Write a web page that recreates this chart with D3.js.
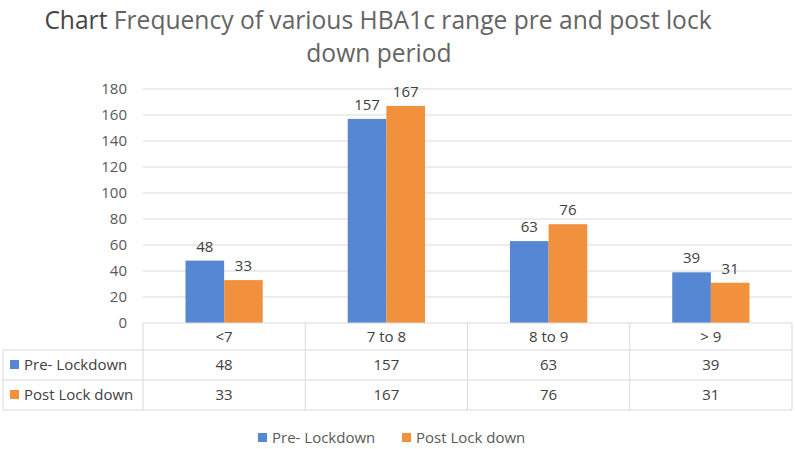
<!DOCTYPE html>
<html>
<head>
<meta charset="utf-8">
<script src="https://cdn.jsdelivr.net/npm/d3@7"></script>
<style>
  body { margin: 0; background: #fff; }
  text { font-family: "Open Sans", "Noto Sans", sans-serif; }
</style>
</head>
<body>
<div class="chart"></div>
<script>
// data
let categories = ["<7", "7 to 8", "8 to 9", "> 9"]
let seriesNames = ["Pre- Lockdown", "Post Lock down"]
let preLockdown = [48, 157, 63, 39]
let postLockdown = [33, 167, 76, 31]
let yTicks = [0, 20, 40, 60, 80, 100, 120, 140, 160, 180]
let colors = ["#5587d3", "#f1913d"]

let svgWidth = 795
let svgHeight = 449

let plot = { left: 143, right: 792, top: 89, bottom: 323 }
let rowH = [27, 30, 30]   // header row, then one per series
let tableLeft = 3

let svg = d3.select('.chart')
    .append('svg')
    .attr('width', svgWidth)
    .attr('height', svgHeight)

// title, two lines
let title = svg.append('g')
    .attr('font-size', 24.6)
    .attr('fill', '#646464')
let line1 = title.append('text')
    .attr('x', 378).attr('y', 29)
    .attr('text-anchor', 'middle')
line1.append('tspan').attr('fill', '#454545').text('Chart')
line1.append('tspan').text(' Frequency of various HBA1c range pre and post lock')
title.append('text')
    .attr('x', 379).attr('y', 62)
    .attr('text-anchor', 'middle')
    .text('down period')

// scales
let xScale = d3.scaleBand()
    .domain(categories)
    .range([plot.left, plot.right])
    .padding(0)

let xInner = d3.scaleBand()
    .domain(seriesNames)
    .range([0, xScale.bandwidth()])
    .paddingInner(0)
    .paddingOuter(1.1)

let yScale = d3.scaleLinear()
    .domain([0, 180])
    .range([plot.bottom, plot.top])

// gridlines
svg.append('g')
    .selectAll('line')
    .data(yTicks.filter(d => d > 0))
    .join('line')
    .attr('x1', plot.left)
    .attr('x2', plot.right)
    .attr('y1', d => yScale(d))
    .attr('y2', d => yScale(d))
    .attr('stroke', '#d9d9d9')
    .attr('stroke-width', 1)

// y axis
let yAxis = d3.axisLeft(yScale)
    .tickValues(yTicks)
    .tickSize(0)
    .tickPadding(0)

svg.append('g')
    .attr('transform', 'translate(127,0)')
    .call(yAxis)
    .call(g => g.select('.domain').remove())
    .call(g => g.selectAll('text')
        .attr('font-size', 15)
        .attr('fill', '#595959')
        .attr('font-family', '"Open Sans", sans-serif'))

// bars
let seriesData = [preLockdown, postLockdown]
seriesData.forEach((vals, s) => {
    let g = svg.append('g')
    g.selectAll('rect')
        .data(vals)
        .join('rect')
        .attr('x', (d, i) => xScale(categories[i]) + xInner(seriesNames[s]))
        .attr('width', xInner.bandwidth())
        .attr('y', d => yScale(d))
        .attr('height', d => yScale(0) - yScale(d))
        .attr('fill', colors[s])

    g.selectAll('text')
        .data(vals)
        .join('text')
        .attr('x', (d, i) => xScale(categories[i]) + xInner(seriesNames[s]) + xInner.bandwidth() / 2)
        .attr('y', d => yScale(d) - 9)
        .attr('text-anchor', 'middle')
        .attr('font-size', 15)
        .attr('fill', '#404040')
        .text(d => d)
})

// data table
let table = svg.append('g')
let rowTop = [plot.bottom, plot.bottom + rowH[0], plot.bottom + rowH[0] + rowH[1]]
let tableBottom = plot.bottom + rowH[0] + rowH[1] + rowH[2]
let lineColor = '#d9d9d9'

// horizontal lines
table.append('line')
    .attr('x1', plot.left).attr('x2', plot.right)
    .attr('y1', plot.bottom).attr('y2', plot.bottom)
    .attr('stroke', lineColor)
;[rowTop[1], rowTop[2], tableBottom].forEach(y => {
    table.append('line')
        .attr('x1', tableLeft).attr('x2', plot.right)
        .attr('y1', y).attr('y2', y)
        .attr('stroke', lineColor)
})
// vertical lines
table.append('line')
    .attr('x1', tableLeft).attr('x2', tableLeft)
    .attr('y1', rowTop[1]).attr('y2', tableBottom)
    .attr('stroke', lineColor)
categories.forEach(c => {
    let x = xScale(c)
    table.append('line')
        .attr('x1', x).attr('x2', x)
        .attr('y1', plot.bottom).attr('y2', tableBottom)
        .attr('stroke', lineColor)
})
table.append('line')
    .attr('x1', plot.right).attr('x2', plot.right)
    .attr('y1', plot.bottom).attr('y2', tableBottom)
    .attr('stroke', lineColor)

// header row (categories)
table.selectAll('.cat')
    .data(categories)
    .join('text')
    .attr('class', 'cat')
    .attr('x', d => xScale(d) + xScale.bandwidth() / 2)
    .attr('y', rowTop[0] + rowH[0] / 2)
    .attr('dy', '0.35em')
    .attr('text-anchor', 'middle')
    .attr('font-size', 15)
    .attr('fill', '#404040')
    .text(d => d)

// value rows
seriesData.forEach((vals, s) => {
    let yMid = rowTop[s + 1] + rowH[s + 1] / 2
    table.append('rect')
        .attr('x', 10).attr('y', yMid - 5)
        .attr('width', 9).attr('height', 9)
        .attr('fill', colors[s])
    table.append('text')
        .attr('x', 24).attr('y', yMid)
        .attr('dy', '0.35em')
        .attr('font-size', 15)
        .attr('fill', '#404040')
        .text(seriesNames[s])
    table.selectAll('.v' + s)
        .data(vals)
        .join('text')
        .attr('class', 'v' + s)
        .attr('x', (d, i) => xScale(categories[i]) + xScale.bandwidth() / 2)
        .attr('y', yMid)
        .attr('dy', '0.35em')
        .attr('text-anchor', 'middle')
        .attr('font-size', 15)
        .attr('fill', '#404040')
        .text(d => d)
})

// legend
let legendX = [258, 402]
let legend = svg.append('g')
seriesNames.forEach((name, s) => {
    legend.append('rect')
        .attr('x', legendX[s]).attr('y', 433)
        .attr('width', 9).attr('height', 9)
        .attr('fill', colors[s])
    legend.append('text')
        .attr('x', legendX[s] + 14).attr('y', 438)
        .attr('dy', '0.35em')
        .attr('font-size', 15)
        .attr('fill', '#595959')
        .text(name)
})
</script>
</body>
</html>
